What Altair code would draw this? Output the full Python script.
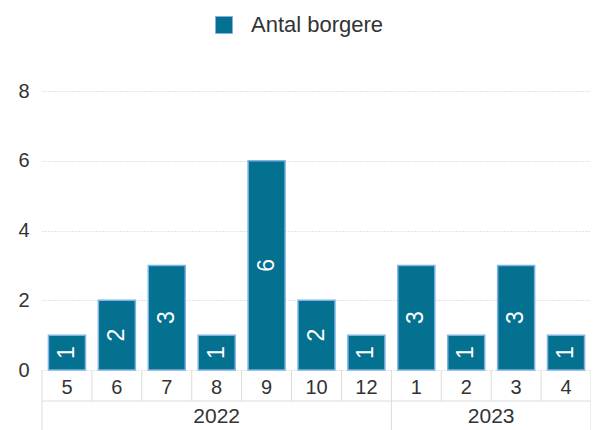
import altair as alt
import pandas as pd

years = [2022, 2022, 2022, 2022, 2022, 2022, 2022, 2023, 2023, 2023, 2023]
months = ["5", "6", "7", "8", "9", "10", "12", "1", "2", "3", "4"]
values = [1, 2, 3, 1, 6, 2, 1, 3, 1, 3, 1]
series_name = "Antal borgere"
y_ticks = [0, 2, 4, 6, 8]

FILL = "#03718f"
EDGE = "#7fb2e6"
LINE = "#dcdcdc"
FONT = "Liberation Sans"

n = len(months)
df = pd.DataFrame({
    "idx": list(range(n)),
    "year": [str(y) for y in years],
    "month": months,
    "value": values,
    "series": [series_name] * n,
})
df["center"] = df["idx"] + 0.5
df["half"] = df["value"] / 2

sep_df = pd.DataFrame({"pos": list(range(n + 1))})
yr = df.groupby("year", sort=False).agg(start=("idx", "min"), end=("idx", "max"), center=("center", "mean")).reset_index()
yr["end"] = yr["end"] + 1
ysep_df = pd.DataFrame({"pos": [int(v) for v in sorted(set(yr["start"].tolist() + yr["end"].tolist()))]})
hline_df = pd.DataFrame({"a": [0], "b": [n]})

xs = alt.Scale(domain=[0, n], nice=False, zero=False, padding=0)
ys = alt.Scale(domain=[0, 8], nice=False)
y_axis = alt.Axis(values=y_ticks, grid=True, gridDash=[1, 2], gridColor="#c8c8c8",
                  domain=False, ticks=False, labelPadding=13, labelFontSize=20,
                  labelColor="#333333", labelFont=FONT, title=None)

base = alt.Chart(df)

bars = base.mark_bar(width=37, stroke=EDGE, strokeWidth=1.5).encode(
    x=alt.X("center:Q", scale=xs, axis=None),
    y=alt.Y("value:Q", scale=ys, axis=y_axis),
    color=alt.Color("series:N", scale=alt.Scale(domain=[series_name], range=[FILL]),
                    legend=alt.Legend(title=None, orient="none", legendX=171, legendY=-77,
                                      symbolType="square", symbolSize=289,
                                      symbolStrokeColor=EDGE, symbolStrokeWidth=1,
                                      labelFontSize=22, labelFont=FONT, labelColor="#333333",
                                      labelOffset=16)),
)

labels = base.mark_text(angle=270, color="white", fontSize=23, font=FONT,
                        baseline="middle", align="center").encode(
    x=alt.X("center:Q", scale=xs, axis=None),
    y=alt.Y("half:Q", scale=ys, axis=y_axis),
    text=alt.Text("value:Q"),
)

month_text = base.mark_text(fontSize=20, font=FONT, color="#333333", baseline="middle").encode(
    x=alt.X("center:Q", scale=xs, axis=None),
    y=alt.value(297),
    text="month:N",
)

month_sep = alt.Chart(sep_df).mark_rule(color=LINE, strokeWidth=1).encode(
    x=alt.X("pos:Q", scale=xs, axis=None),
    y=alt.value(279),
    y2=alt.value(310),
)

hline = alt.Chart(hline_df).mark_rule(color=LINE, strokeWidth=1).encode(
    x=alt.X("a:Q", scale=xs, axis=None),
    x2=alt.X2("b"),
    y=alt.value(310),
)

year_sep = alt.Chart(ysep_df).mark_rule(color=LINE, strokeWidth=1).encode(
    x=alt.X("pos:Q", scale=xs, axis=None),
    y=alt.value(310),
    y2=alt.value(345),
)

year_text = alt.Chart(yr).mark_text(fontSize=21, font=FONT, color="#333333", baseline="middle").encode(
    x=alt.X("center:Q", scale=xs, axis=None),
    y=alt.value(326),
    text="year:N",
)

chart = alt.layer(month_sep, hline, year_sep, bars, labels, month_text, year_text).properties(
    width=549, height=279,
    autosize=alt.AutoSizeParams(type="none"),
    padding={"left": 34, "top": 83, "right": 0, "bottom": 60},
).configure(font=FONT).configure_view(stroke=None)

chart.save("out.html", embed_options={"renderer": "svg", "actions": False})
